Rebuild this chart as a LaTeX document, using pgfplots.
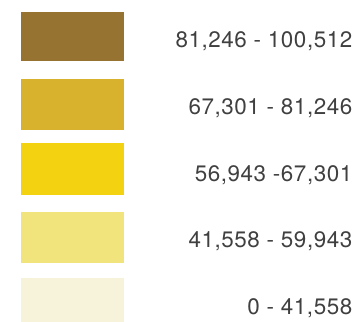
\documentclass[border=0pt]{standalone}
\usepackage{pgfplots}
\pgfplotsset{compat=1.18}
\usepackage{fontspec}
\setmainfont{TeX Gyre Heros}
\newfontfamily\lblfont[LetterSpace=2.5]{TeX Gyre Heros}
\definecolor{c1}{RGB}{150,115,48}
\definecolor{c2}{RGB}{216,178,44}
\definecolor{c3}{RGB}{243,210,18}
\definecolor{c4}{RGB}{242,228,124}
\definecolor{c5}{RGB}{247,243,218}
\definecolor{txt}{RGB}{64,64,64}
\begin{document}
\begin{tikzpicture}
\begin{axis}[
  scale only axis, width=363bp, height=322bp,
  xmin=0, xmax=363, ymin=0, ymax=322, y dir=reverse,
  axis lines=none, ticks=none, clip=true,
]
\addplot[fill=c1, draw=none] coordinates {(21,12) (124,12) (124,61) (21,61)} --cycle;
\addplot[fill=c2, draw=none] coordinates {(21,79) (124,79) (124,130) (21,130)} --cycle;
\addplot[fill=c3, draw=none] coordinates {(21,143) (124,143) (124,195) (21,195)} --cycle;
\addplot[fill=c4, draw=none] coordinates {(21,212) (124,212) (124,263) (21,263)} --cycle;
\addplot[fill=c5, draw=none] coordinates {(21,278) (124,278) (124,330) (21,330)} --cycle;
\begin{scope}[every node/.style={anchor=base east, text=txt, font=\lblfont\fontsize{22.5}{25}\selectfont, inner sep=0pt}]
\node at (axis cs:352.5,47.3) {81,246 - 100,512};
\node at (axis cs:352.5,114.5) {67,301 - 81,246};
\node at (axis cs:352.5,181.5) {56,943 -67,301};
\node at (axis cs:352.5,247.5) {41,558 - 59,943};
\node at (axis cs:352.5,314) {0 - 41,558};
\end{scope}
\end{axis}
\pgfresetboundingbox
\path (current axis.south west) rectangle (current axis.north east);
\end{tikzpicture}
\end{document}
